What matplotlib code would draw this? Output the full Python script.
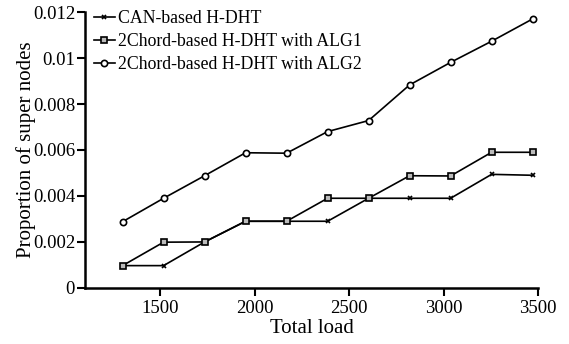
import matplotlib
matplotlib.use('Agg')
import matplotlib.pyplot as plt
from matplotlib.ticker import FormatStrFormatter

# Data
total_load = [1300, 1517, 1734, 1951, 2168, 2385, 2602, 2819, 3036, 3253, 3470]
can_hdht = [0.00097, 0.00097, 0.0020, 0.0029, 0.0029, 0.0029, 0.0039, 0.0039, 0.0039, 0.00494, 0.0049]
chord_alg1 = [0.00097, 0.00199, 0.0020, 0.0029, 0.0029, 0.0039, 0.0039, 0.00488, 0.00487, 0.00590, 0.00590]
chord_alg2 = [0.00288, 0.0039, 0.00488, 0.00588, 0.00586, 0.0068, 0.00728, 0.00883, 0.00981, 0.01073, 0.0117]

x_ticks = [1500, 2000, 2500, 3000, 3500]
y_ticks = [0, 0.002, 0.004, 0.006, 0.008, 0.01, 0.012]


def main():
    plt.rcParams['font.family'] = ['Liberation Serif', 'DejaVu Serif']
    plt.rcParams['font.size'] = 13

    fig = plt.figure(figsize=(5.69, 3.44), dpi=100)
    ax = fig.add_axes([0.149, 0.163, 0.797, 0.802])

    ax.plot(total_load, can_hdht, color='black', lw=1.2, marker='x',
            markersize=3, markeredgewidth=1.2, label='CAN-based H-DHT')
    ax.plot(total_load, chord_alg1, color='black', lw=1.2, marker='s',
            markersize=4, markerfacecolor='#bbbbbb', markeredgewidth=1.2,
            label='2Chord-based H-DHT with ALG1')
    ax.plot(total_load, chord_alg2, color='black', lw=1.2, marker='o',
            markersize=4.5, markerfacecolor='white', markeredgewidth=1.2,
            label='2Chord-based H-DHT with ALG2')

    # Axis limits and ticks
    ax.set_xlim(1100, 3500)
    ax.set_ylim(0, 0.012)
    ax.set_xticks(x_ticks)
    ax.set_yticks(y_ticks)
    ax.yaxis.set_major_formatter(FormatStrFormatter('%g'))
    ax.tick_params(direction='out', length=6, width=1.5, labelsize=13.5, pad=1)
    ax.tick_params(axis='x', pad=3)

    # Only left and bottom spines
    ax.spines['top'].set_visible(False)
    ax.spines['right'].set_visible(False)
    ax.spines['left'].set_linewidth(1.8)
    ax.spines['bottom'].set_linewidth(1.8)

    ax.set_xlabel('Total load', fontsize=15, labelpad=1)
    ax.set_ylabel('Proportion of super nodes', fontsize=15, labelpad=-2)

    ax.legend(loc='upper left', frameon=False, fontsize=12.8, handlelength=1.2,
              handletextpad=0.15, labelspacing=0.35, borderaxespad=0.1,
              bbox_to_anchor=(0.0, 1.04))

    fig.savefig('out.png', dpi=100)


if __name__ == '__main__':
    main()
